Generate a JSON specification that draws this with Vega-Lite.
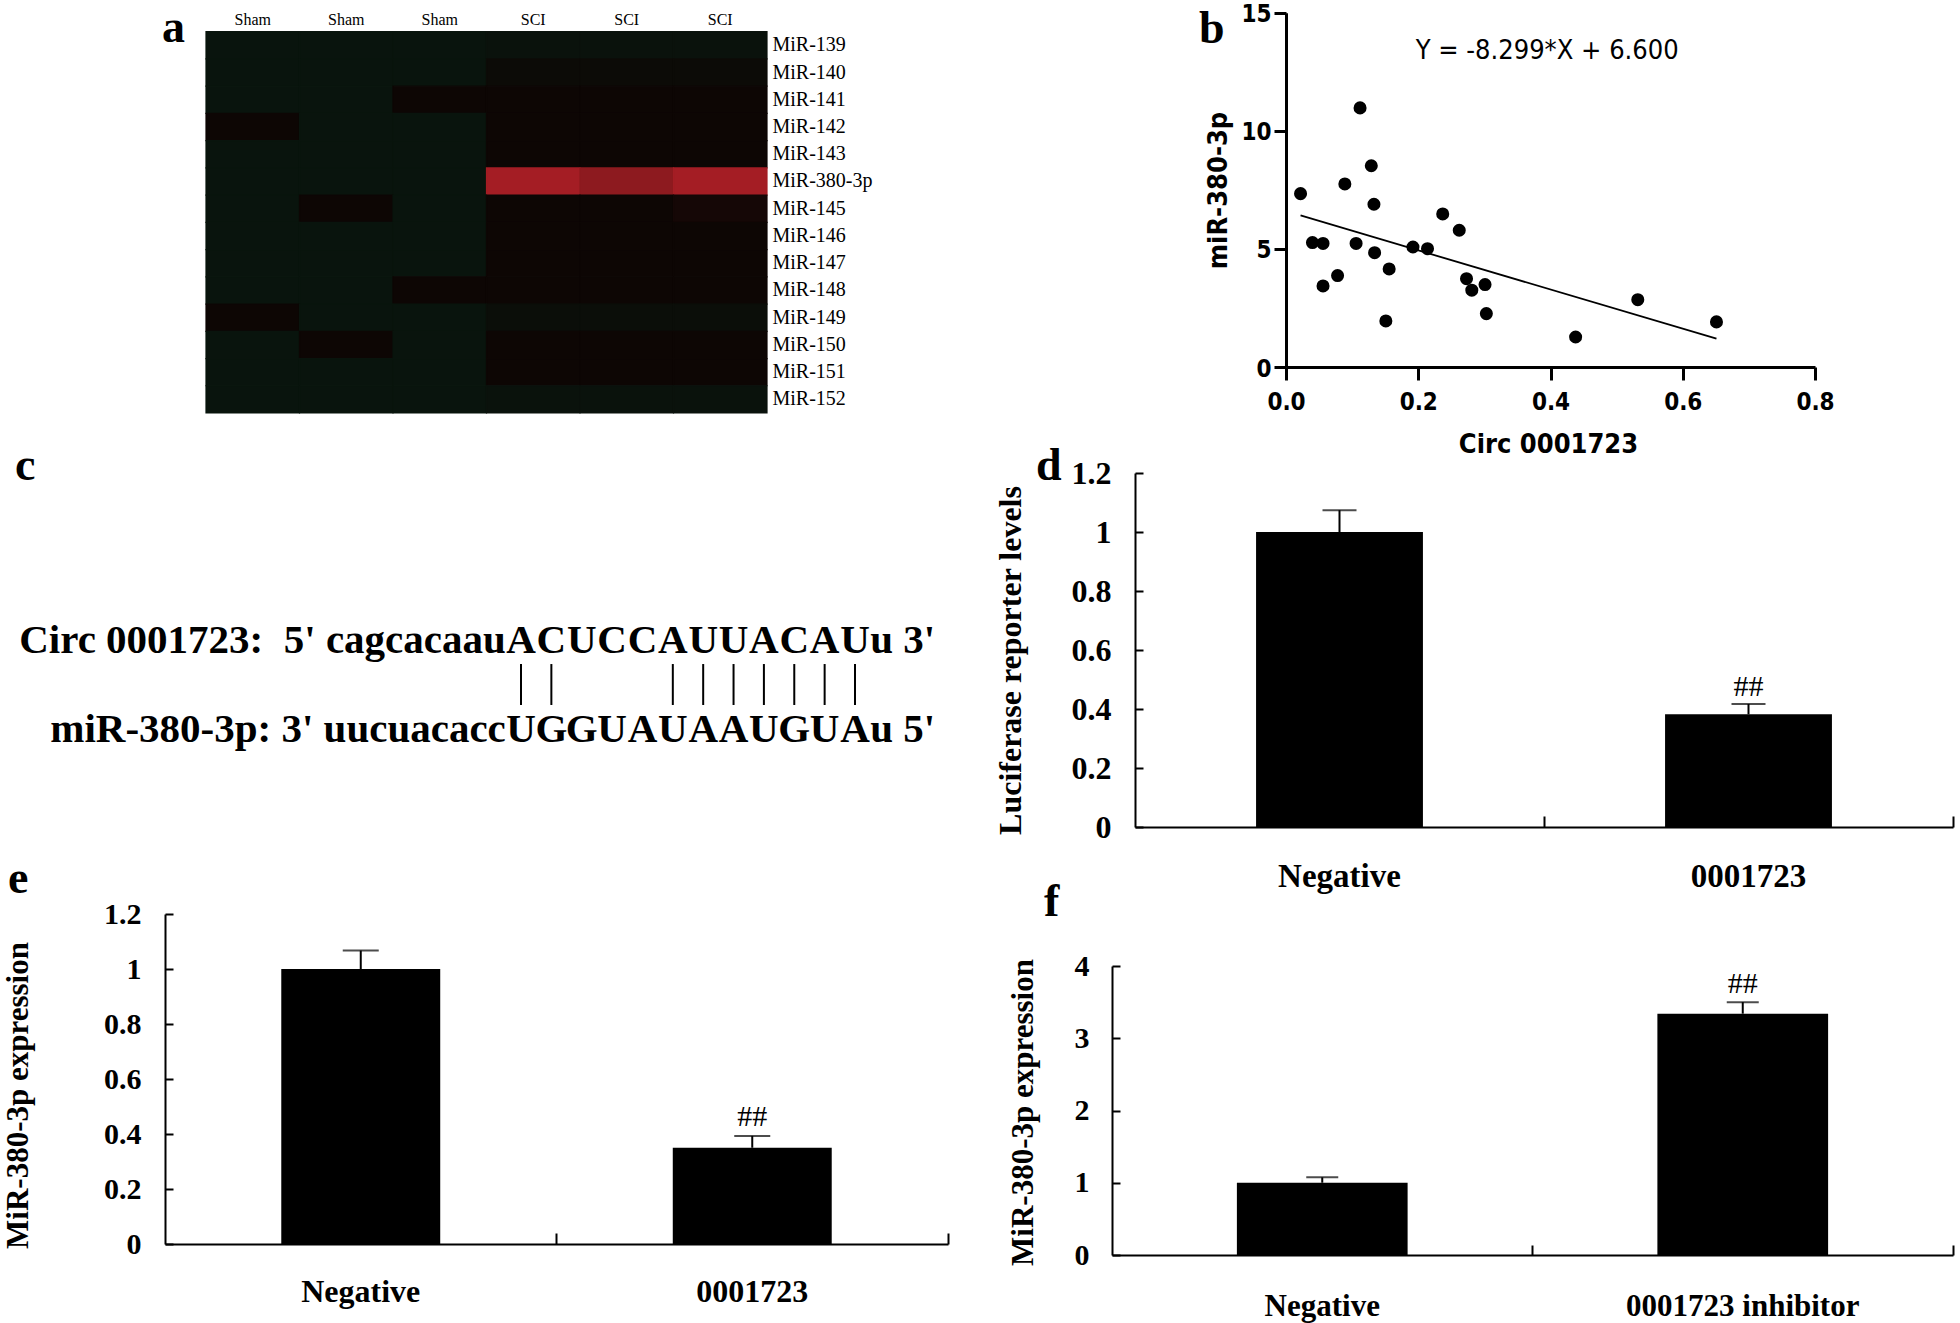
{
  "$schema": "https://vega.github.io/schema/vega-lite/v6.json",
  "background": "white",
  "padding": 0,
  "columns": 2,
  "spacing": 0,
  "bounds": "flush",
  "config": {
    "view": {"stroke": null},
    "font": "Liberation Serif",
    "axis": {"grid": false, "domainColor": "black", "tickColor": "black", "labelColor": "black", "titleColor": "black", "labelFlush": false, "labelLimit": 0},
    "title": {"color": "black"}
  },
  "datasets": {
    "heat": [
      {"mir": "MiR-139", "col": "Sham1", "v": -1}, {"mir": "MiR-139", "col": "Sham2", "v": -1}, {"mir": "MiR-139", "col": "Sham3", "v": -1}, {"mir": "MiR-139", "col": "SCI4", "v": -0.85}, {"mir": "MiR-139", "col": "SCI5", "v": -0.85}, {"mir": "MiR-139", "col": "SCI6", "v": -0.85},
      {"mir": "MiR-140", "col": "Sham1", "v": -1}, {"mir": "MiR-140", "col": "Sham2", "v": -1}, {"mir": "MiR-140", "col": "Sham3", "v": -1}, {"mir": "MiR-140", "col": "SCI4", "v": -0.35}, {"mir": "MiR-140", "col": "SCI5", "v": -0.35}, {"mir": "MiR-140", "col": "SCI6", "v": -0.35},
      {"mir": "MiR-141", "col": "Sham1", "v": -1}, {"mir": "MiR-141", "col": "Sham2", "v": -1}, {"mir": "MiR-141", "col": "Sham3", "v": 0}, {"mir": "MiR-141", "col": "SCI4", "v": 0}, {"mir": "MiR-141", "col": "SCI5", "v": 0}, {"mir": "MiR-141", "col": "SCI6", "v": 0},
      {"mir": "MiR-142", "col": "Sham1", "v": 0}, {"mir": "MiR-142", "col": "Sham2", "v": -1}, {"mir": "MiR-142", "col": "Sham3", "v": -1}, {"mir": "MiR-142", "col": "SCI4", "v": 0}, {"mir": "MiR-142", "col": "SCI5", "v": 0}, {"mir": "MiR-142", "col": "SCI6", "v": 0},
      {"mir": "MiR-143", "col": "Sham1", "v": -1}, {"mir": "MiR-143", "col": "Sham2", "v": -1}, {"mir": "MiR-143", "col": "Sham3", "v": -1}, {"mir": "MiR-143", "col": "SCI4", "v": 0}, {"mir": "MiR-143", "col": "SCI5", "v": 0}, {"mir": "MiR-143", "col": "SCI6", "v": 0},
      {"mir": "MiR-380-3p", "col": "Sham1", "v": -1}, {"mir": "MiR-380-3p", "col": "Sham2", "v": -1}, {"mir": "MiR-380-3p", "col": "Sham3", "v": -1}, {"mir": "MiR-380-3p", "col": "SCI4", "v": 3}, {"mir": "MiR-380-3p", "col": "SCI5", "v": 2.55}, {"mir": "MiR-380-3p", "col": "SCI6", "v": 3},
      {"mir": "MiR-145", "col": "Sham1", "v": -1}, {"mir": "MiR-145", "col": "Sham2", "v": 0}, {"mir": "MiR-145", "col": "Sham3", "v": -1}, {"mir": "MiR-145", "col": "SCI4", "v": 0}, {"mir": "MiR-145", "col": "SCI5", "v": 0}, {"mir": "MiR-145", "col": "SCI6", "v": 0.15},
      {"mir": "MiR-146", "col": "Sham1", "v": -1}, {"mir": "MiR-146", "col": "Sham2", "v": -1}, {"mir": "MiR-146", "col": "Sham3", "v": -1}, {"mir": "MiR-146", "col": "SCI4", "v": 0}, {"mir": "MiR-146", "col": "SCI5", "v": 0}, {"mir": "MiR-146", "col": "SCI6", "v": 0},
      {"mir": "MiR-147", "col": "Sham1", "v": -1}, {"mir": "MiR-147", "col": "Sham2", "v": -1}, {"mir": "MiR-147", "col": "Sham3", "v": -1}, {"mir": "MiR-147", "col": "SCI4", "v": 0}, {"mir": "MiR-147", "col": "SCI5", "v": 0}, {"mir": "MiR-147", "col": "SCI6", "v": 0},
      {"mir": "MiR-148", "col": "Sham1", "v": -1}, {"mir": "MiR-148", "col": "Sham2", "v": -1}, {"mir": "MiR-148", "col": "Sham3", "v": 0}, {"mir": "MiR-148", "col": "SCI4", "v": 0}, {"mir": "MiR-148", "col": "SCI5", "v": 0}, {"mir": "MiR-148", "col": "SCI6", "v": 0},
      {"mir": "MiR-149", "col": "Sham1", "v": 0}, {"mir": "MiR-149", "col": "Sham2", "v": -1}, {"mir": "MiR-149", "col": "Sham3", "v": -1}, {"mir": "MiR-149", "col": "SCI4", "v": -0.55}, {"mir": "MiR-149", "col": "SCI5", "v": -0.55}, {"mir": "MiR-149", "col": "SCI6", "v": -0.55},
      {"mir": "MiR-150", "col": "Sham1", "v": -1}, {"mir": "MiR-150", "col": "Sham2", "v": 0}, {"mir": "MiR-150", "col": "Sham3", "v": -1}, {"mir": "MiR-150", "col": "SCI4", "v": 0}, {"mir": "MiR-150", "col": "SCI5", "v": 0}, {"mir": "MiR-150", "col": "SCI6", "v": 0},
      {"mir": "MiR-151", "col": "Sham1", "v": -1}, {"mir": "MiR-151", "col": "Sham2", "v": -1}, {"mir": "MiR-151", "col": "Sham3", "v": -1}, {"mir": "MiR-151", "col": "SCI4", "v": 0}, {"mir": "MiR-151", "col": "SCI5", "v": 0}, {"mir": "MiR-151", "col": "SCI6", "v": 0},
      {"mir": "MiR-152", "col": "Sham1", "v": -1}, {"mir": "MiR-152", "col": "Sham2", "v": -1}, {"mir": "MiR-152", "col": "Sham3", "v": -1}, {"mir": "MiR-152", "col": "SCI4", "v": -0.85}, {"mir": "MiR-152", "col": "SCI5", "v": -0.85}, {"mir": "MiR-152", "col": "SCI6", "v": -0.85}
    ],
    "scatter": [
      {"circ": 0.022, "mir": 7.34}, {"circ": 0.040, "mir": 5.27}, {"circ": 0.056, "mir": 5.23}, {"circ": 0.056, "mir": 3.43},
      {"circ": 0.078, "mir": 3.87}, {"circ": 0.089, "mir": 7.75}, {"circ": 0.106, "mir": 5.23}, {"circ": 0.112, "mir": 10.97},
      {"circ": 0.129, "mir": 8.52}, {"circ": 0.133, "mir": 6.89}, {"circ": 0.134, "mir": 4.84}, {"circ": 0.151, "mir": 1.95},
      {"circ": 0.156, "mir": 4.15}, {"circ": 0.192, "mir": 5.08}, {"circ": 0.214, "mir": 5.01}, {"circ": 0.237, "mir": 6.48},
      {"circ": 0.262, "mir": 5.79}, {"circ": 0.273, "mir": 3.74}, {"circ": 0.281, "mir": 3.25}, {"circ": 0.301, "mir": 3.49},
      {"circ": 0.303, "mir": 2.26}, {"circ": 0.438, "mir": 1.27}, {"circ": 0.532, "mir": 2.85}, {"circ": 0.651, "mir": 1.91}
    ],
    "fit": [{"circ": 0.022, "mir": 6.417}, {"circ": 0.651, "mir": 1.197}],
    "pairs": [
      {"pos": 0, "top": "A", "bottom": "U", "paired": true},
      {"pos": 1, "top": "C", "bottom": "G", "paired": true},
      {"pos": 2, "top": "U", "bottom": "G", "paired": false},
      {"pos": 3, "top": "C", "bottom": "U", "paired": false},
      {"pos": 4, "top": "C", "bottom": "A", "paired": false},
      {"pos": 5, "top": "A", "bottom": "U", "paired": true},
      {"pos": 6, "top": "U", "bottom": "A", "paired": true},
      {"pos": 7, "top": "U", "bottom": "A", "paired": true},
      {"pos": 8, "top": "A", "bottom": "U", "paired": true},
      {"pos": 9, "top": "C", "bottom": "G", "paired": true},
      {"pos": 10, "top": "A", "bottom": "U", "paired": true},
      {"pos": 11, "top": "U", "bottom": "A", "paired": true}
    ],
    "flanks": [
      {"strand": 1, "prefix": "Circ 0001723:\u00a0 5' cagcacaau", "suffix": "u 3'"},
      {"strand": 2, "prefix": "miR-380-3p: 3' uucuacacc", "suffix": "u 5'"}
    ],
    "luc": [
      {"group": "Negative", "mean": 1.0, "upper": 1.074, "sig": ""},
      {"group": "0001723", "mean": 0.382, "upper": 0.417, "sig": "##"}
    ],
    "expr": [
      {"group": "Negative", "mean": 1.0, "upper": 1.067, "sig": ""},
      {"group": "0001723", "mean": 0.35, "upper": 0.393, "sig": "##"}
    ],
    "inhib": [
      {"group": "Negative", "mean": 1.0, "upper": 1.075, "sig": ""},
      {"group": "0001723 inhibitor", "mean": 3.34, "upper": 3.5, "sig": "##"}
    ]
  },
  "concat": [
    {
      "width": 1000, "height": 440,
      "title": {"text": "a", "orient": "none", "anchor": "start", "frame": "group", "font": "Liberation Serif", "fontSize": 46, "fontWeight": "bold", "baseline": "alphabetic", "dx": 162, "dy": 42},
      "data": {"name": "heat"},
      "mark": {"type": "rect", "strokeWidth": 1.2},
      "encoding": {
        "x": {"field": "col", "type": "nominal", "sort": null,
          "scale": {"range": [206, 767], "paddingInner": 0, "paddingOuter": 0},
          "axis": {"orient": "top", "offset": -31.7, "ticks": false, "domain": false, "labelAngle": 0, "labelFont": "Liberation Serif", "labelFontSize": 16, "labelPadding": 4, "labelExpr": "slice(datum.value, 0, -1)", "title": null}},
        "y": {"field": "mir", "type": "nominal", "sort": null,
          "scale": {"range": [31.7, 413], "paddingInner": 0, "paddingOuter": 0},
          "axis": {"orient": "right", "offset": -233, "ticks": false, "domain": false, "labelFont": "Liberation Serif", "labelFontSize": 20, "labelPadding": 5, "title": null}},
        "color": {"field": "v", "type": "quantitative",
          "scale": {"domain": [-1, 0, 3], "range": ["#09140d", "#0d0604", "#a41d24"], "interpolate": "rgb"},
          "legend": null},
        "stroke": {"field": "v", "type": "quantitative",
          "scale": {"domain": [-1, 0, 3], "range": ["#09140d", "#0d0604", "#a41d24"], "interpolate": "rgb"},
          "legend": null}
      }
    },
    {
      "width": 960, "height": 440,
      "title": {"text": "b", "orient": "none", "anchor": "start", "frame": "group", "font": "Liberation Serif", "fontSize": 46, "fontWeight": "bold", "baseline": "alphabetic", "dx": 199, "dy": 43},
      "layer": [
        {
          "data": {"name": "scatter"},
          "mark": {"type": "circle", "size": 170, "color": "black", "opacity": 1},
          "encoding": {
            "x": {"field": "circ", "type": "quantitative",
              "scale": {"domain": [0, 0.8], "range": [286, 815], "nice": false, "zero": false},
              "axis": {"values": [0, 0.2, 0.4, 0.6, 0.8], "format": ".1f", "offset": -73, "tickSize": 13, "tickWidth": 3, "domainWidth": 3,
                "labelFont": "'Liberation Sans Narrow', 'DejaVu Sans Condensed', 'Liberation Sans', sans-serif", "labelFontWeight": "bold", "labelFontSize": 24, "labelPadding": 10,
                "title": "Circ 0001723", "titleFont": "'Liberation Sans Narrow', 'DejaVu Sans Condensed', 'Liberation Sans', sans-serif", "titleFontWeight": "bold", "titleFontSize": 27,
                "titleX": 548, "titleY": 77, "titleAlign": "center", "titleBaseline": "middle"}},
            "y": {"field": "mir", "type": "quantitative",
              "scale": {"domain": [0, 15], "range": [367, 12.7], "nice": false},
              "axis": {"values": [0, 5, 10, 15], "offset": -286, "tickSize": 12, "tickWidth": 3, "domainWidth": 3,
                "labelFont": "'Liberation Sans Narrow', 'DejaVu Sans Condensed', 'Liberation Sans', sans-serif", "labelFontWeight": "bold", "labelFontSize": 24, "labelPadding": 3, "labelOffset": 2,
                "title": "miR-380-3p", "titleFont": "'Liberation Sans Narrow', 'DejaVu Sans Condensed', 'Liberation Sans', sans-serif", "titleFontWeight": "bold", "titleFontSize": 27,
                "titleX": -68, "titleY": 190, "titleAngle": -90, "titleAlign": "center", "titleBaseline": "middle"}}
          }
        },
        {
          "data": {"name": "fit"},
          "mark": {"type": "line", "color": "black", "strokeWidth": 1.8},
          "encoding": {
            "x": {"field": "circ", "type": "quantitative"},
            "y": {"field": "mir", "type": "quantitative"}
          }
        },
        {
          "data": {"values": [{"eq": "Y = -8.299*X + 6.600"}]},
          "mark": {"type": "text", "font": "'Liberation Sans Narrow', 'DejaVu Sans Condensed', 'Liberation Sans', sans-serif", "fontSize": 27, "align": "center", "baseline": "middle", "color": "black"},
          "encoding": {
            "x": {"datum": 0.395, "type": "quantitative"},
            "y": {"datum": 13.38, "type": "quantitative"},
            "text": {"field": "eq"}
          }
        }
      ]
    },
    {
      "width": 1000, "height": 440,
      "title": {"text": "c", "orient": "none", "anchor": "start", "frame": "group", "font": "Liberation Serif", "fontSize": 46, "fontWeight": "bold", "baseline": "alphabetic", "dx": 15, "dy": 40},
      "layer": [
        {
          "data": {"name": "pairs"},
          "mark": {"type": "text", "font": "Liberation Serif", "fontWeight": "bold", "fontSize": 41, "baseline": "alphabetic", "align": "center", "color": "black"},
          "encoding": {
            "x": {"field": "pos", "type": "quantitative", "scale": {"domain": [0, 11], "range": [521, 855], "nice": false, "zero": false}, "axis": null},
            "y": {"datum": 1, "type": "quantitative", "scale": {"domain": [1, 2], "range": [213, 302], "nice": false, "zero": false}, "axis": null},
            "text": {"field": "top"}
          }
        },
        {
          "data": {"name": "pairs"},
          "mark": {"type": "text", "font": "Liberation Serif", "fontWeight": "bold", "fontSize": 41, "baseline": "alphabetic", "align": "center", "color": "black"},
          "encoding": {
            "x": {"field": "pos", "type": "quantitative"},
            "y": {"datum": 2, "type": "quantitative"},
            "text": {"field": "bottom"}
          }
        },
        {
          "data": {"name": "pairs"},
          "transform": [{"filter": "datum.paired"}],
          "mark": {"type": "rule", "color": "black", "strokeWidth": 2},
          "encoding": {
            "x": {"field": "pos", "type": "quantitative"},
            "y": {"datum": 1.124, "type": "quantitative"},
            "y2": {"datum": 1.584}
          }
        },
        {
          "data": {"name": "flanks"},
          "mark": {"type": "text", "font": "Liberation Serif", "fontWeight": "bold", "fontSize": 41, "baseline": "alphabetic", "align": "right", "color": "black"},
          "encoding": {
            "x": {"datum": -0.5, "type": "quantitative"},
            "y": {"field": "strand", "type": "quantitative"},
            "text": {"field": "prefix"}
          }
        },
        {
          "data": {"name": "flanks"},
          "mark": {"type": "text", "font": "Liberation Serif", "fontWeight": "bold", "fontSize": 41, "baseline": "alphabetic", "align": "left", "color": "black"},
          "encoding": {
            "x": {"datum": 11.5, "type": "quantitative"},
            "y": {"field": "strand", "type": "quantitative"},
            "text": {"field": "suffix"}
          }
        }
      ]
    },
    {
      "width": 960, "height": 440,
      "title": {"text": "d", "orient": "none", "anchor": "start", "frame": "group", "font": "Liberation Serif", "fontSize": 46, "fontWeight": "bold", "baseline": "alphabetic", "dx": 36, "dy": 40},
      "data": {"name": "luc"},
      "encoding": {
        "x": {"field": "group", "type": "nominal", "sort": null,
          "scale": {"range": [135, 953], "paddingInner": 0, "paddingOuter": 0},
          "axis": {"orient": "bottom", "offset": -53, "bandPosition": 1, "tickSize": -11, "tickWidth": 2, "domainWidth": 2,
            "labelAngle": 0, "labelFont": "Liberation Serif", "labelFontWeight": "bold", "labelFontSize": 33, "labelPadding": 44, "title": null}},
        "y": {"field": "mean", "type": "quantitative", "title": "Luciferase reporter levels",
          "scale": {"domain": [0, 1.2], "range": [387, 33], "nice": false},
          "axis": {"offset": -135, "values": [0, 0.2, 0.4, 0.6, 0.8, 1, 1.2], "format": "~g", "tickSize": -8, "tickWidth": 2, "domainWidth": 2,
            "labelFont": "Liberation Serif", "labelFontWeight": "bold", "labelFontSize": 32, "labelPadding": 32,
            "titleFont": "Liberation Serif", "titleFontWeight": "bold", "titleFontSize": 32,
            "titleX": -125, "titleY": 220, "titleAngle": -90, "titleAlign": "center", "titleBaseline": "middle"}}
      },
      "layer": [
        {"mark": {"type": "bar", "color": "black", "width": {"band": 0.408}}},
        {"mark": {"type": "rule", "color": "black", "strokeWidth": 2},
          "encoding": {"y2": {"field": "upper"}}},
        {"mark": {"type": "tick", "color": "black", "thickness": 2, "size": 34},
          "encoding": {"y": {"field": "upper", "type": "quantitative", "title": "Luciferase reporter levels"}}},
        {"mark": {"type": "text", "font": "Liberation Serif", "fontSize": 30, "baseline": "alphabetic", "dy": -8, "color": "black"},
          "encoding": {"y": {"field": "upper", "type": "quantitative", "title": "Luciferase reporter levels"}, "text": {"field": "sig"}}}
      ]
    },
    {
      "width": 1000, "height": 443,
      "title": {"text": "e", "orient": "none", "anchor": "start", "frame": "group", "font": "Liberation Serif", "fontSize": 46, "fontWeight": "bold", "baseline": "alphabetic", "dx": 8, "dy": 13},
      "data": {"name": "expr"},
      "encoding": {
        "x": {"field": "group", "type": "nominal", "sort": null,
          "scale": {"range": [165, 948], "paddingInner": 0, "paddingOuter": 0},
          "axis": {"orient": "bottom", "offset": -79, "bandPosition": 1, "tickSize": -11, "tickWidth": 2, "domainWidth": 2,
            "labelAngle": 0, "labelFont": "Liberation Serif", "labelFontWeight": "bold", "labelFontSize": 32, "labelPadding": 43, "title": null}},
        "y": {"field": "mean", "type": "quantitative", "title": "MiR-380-3p expression",
          "scale": {"domain": [0, 1.2], "range": [364, 34], "nice": false},
          "axis": {"offset": -165, "values": [0, 0.2, 0.4, 0.6, 0.8, 1, 1.2], "format": "~g", "tickSize": -8, "tickWidth": 2, "domainWidth": 2,
            "labelFont": "Liberation Serif", "labelFontWeight": "bold", "labelFontSize": 30, "labelPadding": 32,
            "titleFont": "Liberation Serif", "titleFontWeight": "bold", "titleFontSize": 31,
            "titleX": -147, "titleY": 215, "titleAngle": -90, "titleAlign": "center", "titleBaseline": "middle"}}
      },
      "layer": [
        {"mark": {"type": "bar", "color": "black", "width": {"band": 0.406}}},
        {"mark": {"type": "rule", "color": "black", "strokeWidth": 2},
          "encoding": {"y2": {"field": "upper"}}},
        {"mark": {"type": "tick", "color": "black", "thickness": 2, "size": 36},
          "encoding": {"y": {"field": "upper", "type": "quantitative", "title": "MiR-380-3p expression"}}},
        {"mark": {"type": "text", "font": "Liberation Serif", "fontSize": 30, "baseline": "alphabetic", "dy": -10, "color": "black"},
          "encoding": {"y": {"field": "upper", "type": "quantitative", "title": "MiR-380-3p expression"}, "text": {"field": "sig"}}}
      ]
    },
    {
      "width": 960, "height": 443,
      "title": {"text": "f", "orient": "none", "anchor": "start", "frame": "group", "font": "Liberation Serif", "fontSize": 46, "fontWeight": "bold", "baseline": "alphabetic", "dx": 44, "dy": 36},
      "data": {"name": "inhib"},
      "encoding": {
        "x": {"field": "group", "type": "nominal", "sort": null,
          "scale": {"range": [112, 953], "paddingInner": 0, "paddingOuter": 0},
          "axis": {"orient": "bottom", "offset": -68, "bandPosition": 1, "tickSize": -10, "tickWidth": 2, "domainWidth": 2,
            "labelAngle": 0, "labelFont": "Liberation Serif", "labelFontWeight": "bold", "labelFontSize": 31, "labelPadding": 46, "title": null}},
        "y": {"field": "mean", "type": "quantitative", "title": "MiR-380-3p expression",
          "scale": {"domain": [0, 4], "range": [375, 86], "nice": false},
          "axis": {"offset": -112, "values": [0, 1, 2, 3, 4], "tickSize": -8, "tickWidth": 2, "domainWidth": 2,
            "labelFont": "Liberation Serif", "labelFontWeight": "bold", "labelFontSize": 30, "labelPadding": 31,
            "titleFont": "Liberation Serif", "titleFontWeight": "bold", "titleFontSize": 31,
            "titleX": -89, "titleY": 232, "titleAngle": -90, "titleAlign": "center", "titleBaseline": "middle"}}
      },
      "layer": [
        {"mark": {"type": "bar", "color": "black", "width": {"band": 0.406}}},
        {"mark": {"type": "rule", "color": "black", "strokeWidth": 2},
          "encoding": {"y2": {"field": "upper"}}},
        {"mark": {"type": "tick", "color": "black", "thickness": 2, "size": 32},
          "encoding": {"y": {"field": "upper", "type": "quantitative", "title": "MiR-380-3p expression"}}},
        {"mark": {"type": "text", "font": "Liberation Serif", "fontSize": 30, "baseline": "alphabetic", "dy": -9, "color": "black"},
          "encoding": {"y": {"field": "upper", "type": "quantitative", "title": "MiR-380-3p expression"}, "text": {"field": "sig"}}}
      ]
    }
  ]
}
